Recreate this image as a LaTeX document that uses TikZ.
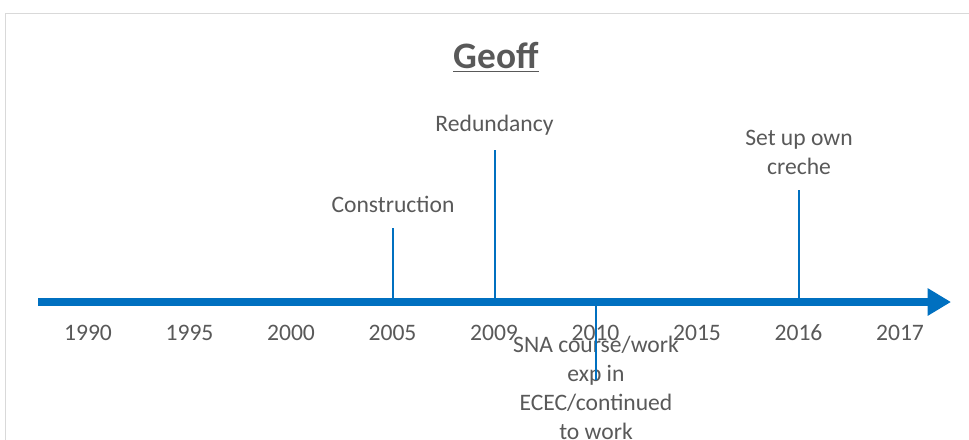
\documentclass[tikz,border=0pt]{standalone}
\usepackage{fontspec}
\setmainfont{Carlito}
\usetikzlibrary{arrows.meta}
\definecolor{axisblue}{HTML}{0070C0}
\definecolor{txtgray}{HTML}{595959}
\definecolor{framegray}{HTML}{D9D9D9}
\begin{document}
\begin{tikzpicture}[x=0.75pt,y=-0.75pt,
  lbl/.style={text=txtgray,font=\fontsize{17.7}{21.6}\selectfont,inner sep=0pt,align=center},
  tick/.style={draw=axisblue,line width=1.5pt},
  axis/.style={draw=axisblue,line width=5.4pt,-{Triangle[length=17.5pt,width=19.5pt]}}]
  \useasboundingbox (0,0) rectangle (969,439);
  % chart frame (clipped by the page edge on the right and bottom)
  \draw[framegray,line width=1.2pt] (5.5,450) -- (5.5,13.5) -- (980,13.5);
  % title
  \node[text=txtgray,font=\fontsize{28}{33}\selectfont\bfseries,inner sep=0pt] (title) at (496,57) {\underline{Geoff}};
  % time axis
  \coordinate (axstart) at (38,302);
  \coordinate (axend) at (951,302);
  \draw[axis] (axstart) -- (axend);
  % year labels
  \foreach \yr [count=\i from 0] in {1990,1995,2000,2005,2009,2010,2015,2016,2017}
    \node[lbl] (y\yr) at ({88+101.5*\i},333) {\yr};
  % events
  \coordinate (a2005) at (393,302);
  \coordinate (a2009) at (494.5,302);
  \coordinate (a2010) at (596,302);
  \coordinate (a2016) at (799,302);
  \node[lbl,anchor=south] (construction) at (393,213) {Construction};
  \node[lbl,anchor=south] (redundancy) at (494.5,136) {Redundancy};
  \node[lbl,anchor=south] (creche) at (799,175) {Set up own\\[0pt]creche};
  \node[lbl] (sna) at (596,388) {SNA course/work\\[0pt]exp in\\[0pt]ECEC/continued\\[0pt]to work};
  \coordinate (snaend) at (596,380);
  \draw[tick] (a2005) -- ([yshift=-15*0.75pt]construction.south);
  \draw[tick] (a2009) -- ([yshift=-14*0.75pt]redundancy.south);
  \draw[tick] (a2016) -- ([yshift=-15*0.75pt]creche.south);
  \draw[tick] (a2010) -- (snaend);
\end{tikzpicture}
\end{document}
